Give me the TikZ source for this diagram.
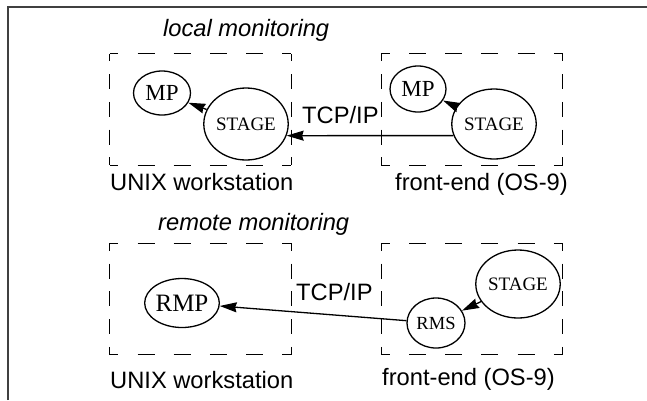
\documentclass[tikz,border=0pt]{standalone}
\usepackage{fontspec}
\setmainfont{Liberation Serif}
\setsansfont{Liberation Sans}
\usetikzlibrary{shapes.geometric,arrows.meta}
\tikzset{
  proc/.style={ellipse, draw, line width=1.3pt, inner sep=0pt, font=\rmfamily},
  lbl/.style={font=\sffamily\fontsize{23.7}{28}\selectfont, inner sep=0pt, anchor=base west},
  ilbl/.style={lbl, font=\sffamily\itshape\fontsize{23.7}{28}\selectfont},
  conn/.style={line width=1.3pt, -{Stealth[length=17pt,width=10pt,inset=1.5pt]}},
  hdash/.style={line width=1.3pt, dash pattern=on 17pt off 19.2pt, dash phase=8.5pt},
  vdash/.style={line width=1.3pt, dash pattern=on 15pt off 12.75pt, dash phase=7.5pt},
  area/.style={rectangle, inner sep=0pt, minimum width=181pt, minimum height=111pt}
}
\newcommand{\mydashedarea}[1]{%
  \draw[hdash] (#1.north west) -- (#1.north east);
  \draw[hdash] (#1.south west) -- (#1.south east);
  \draw[vdash] (#1.north west) -- (#1.south west);
  \draw[vdash] (#1.north east) -- (#1.south east);
}
\begin{document}
\begin{tikzpicture}[x=1pt,y=-1pt]
\useasboundingbox (0,0) rectangle (647,400);
% frame
\coordinate (fbl) at (8,400);
\coordinate (ftl) at (8,7);
\coordinate (ftr) at (647,7);
\draw[line width=1.5pt, black!75] (fbl) -- (ftl) -- (ftr);

% dashed areas
\node[area] (boxA) at (200.5,109.5) {};
\node[area] (boxB) at (472,109.5) {};
\node[area] (boxC) at (200.5,299) {};
\node[area] (boxD) at (472,299) {};
\mydashedarea{boxA}
\mydashedarea{boxB}
\mydashedarea{boxC}
\mydashedarea{boxD}

% labels
\node[ilbl] (tlocal) at (163,36) {local monitoring};
\node[lbl] (tunix1) at (110,190) {UNIX workstation};
\node[lbl] (tfe1) at (395,190) {front-end (OS-9)};
\node[lbl] (ttcp1) at (302,123) {TCP/IP};
\node[ilbl] (tremote) at (158,230) {remote monitoring};
\node[lbl] (tunix2) at (110,388) {UNIX workstation};
\node[lbl] (tfe2) at (382,385) {front-end (OS-9)};
\node[lbl] (ttcp2) at (296,300) {TCP/IP};

% top nodes
\node[proc, minimum width=57pt, minimum height=44pt, font=\rmfamily\fontsize{23}{25}\selectfont] (mpL) at (162,93) {MP};
\node[proc, minimum width=72pt, minimum height=72pt, font=\rmfamily\fontsize{19}{21}\selectfont] (stageL) at (246,124) {STAGE};
\node[proc, minimum width=56pt, minimum height=46pt, font=\rmfamily\fontsize{23}{25}\selectfont] (mpR) at (418,89) {MP};
\node[proc, minimum width=73pt, minimum height=70pt, font=\rmfamily\fontsize{19}{21}\selectfont] (stageR) at (494,124) {STAGE};

% bottom nodes
\node[proc, minimum width=57pt, minimum height=49pt, font=\rmfamily\fontsize{25}{27}\selectfont] (rmp) at (182,303) {RMP};
\node[proc, minimum width=73pt, minimum height=68pt, font=\rmfamily\fontsize{19}{21}\selectfont] (stageB) at (518,284) {STAGE};
\node[proc, minimum width=58pt, minimum height=50pt, font=\rmfamily\fontsize{18.5}{20}\selectfont] (rms) at (436,323) {RMS};

% connectors
\draw[conn] (stageL) -- (mpL);
\draw[conn] (stageR) -- (mpR);
\draw[conn] (stageR.196) -- (stageL.344);
\draw[conn] (stageB) -- (rms);
\draw[conn] (rms) -- (rmp);
\end{tikzpicture}
\end{document}
